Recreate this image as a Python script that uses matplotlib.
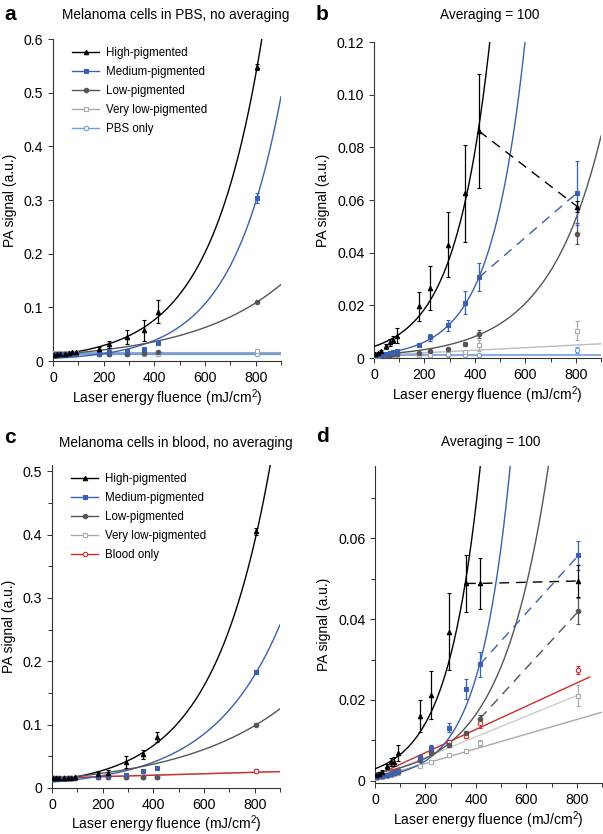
import numpy as np
import matplotlib.pyplot as plt
from matplotlib.lines import Line2D
from matplotlib.ticker import MultipleLocator

plt.rcParams['font.family'] = ['Liberation Sans', 'DejaVu Sans']
plt.rcParams['mathtext.fontset'] = 'custom'
plt.rcParams['mathtext.rm'] = 'Liberation Sans'
plt.rcParams['font.size'] = 9.5

# laser energy fluence (mJ/cm2), shared by all panels
fluence = [5, 15, 28, 48, 63, 76, 91, 180, 223, 294, 361, 416, 806]

# ---- a: melanoma cells in PBS, no averaging
a_high = [0.012, 0.013, 0.013, 0.014, 0.015, 0.016, 0.016, 0.022, 0.031, 0.044, 0.057, 0.092, 0.548]
a_high_err = [0.001, 0.001, 0.001, 0.001, 0.002, 0.002, 0.002, 0.005, 0.007, 0.013, 0.019, 0.021, 0.005]
a_med = [0.013, 0.013, 0.013, 0.013, 0.013, 0.014, 0.014, 0.014, 0.016, 0.019, 0.023, 0.033, 0.304]
a_med_err = [0.001, 0.001, 0.001, 0.001, 0.001, 0.001, 0.001, 0.001, 0.001, 0.002, 0.002, 0.003, 0.010]
a_low = [0.012, 0.012, 0.013, 0.013, 0.013, 0.013, 0.013, 0.013, 0.014, 0.014, 0.015, 0.016, 0.110]
a_low_err = [0.001, 0.001, 0.001, 0.001, 0.001, 0.001, 0.001, 0.001, 0.001, 0.001, 0.001, 0.001, 0.002]
a_vlow = [0.015, 0.015, 0.015, 0.015, 0.015, 0.015, 0.015, 0.014, 0.014, 0.014, 0.014, 0.014, 0.018]
a_vlow_err = [0.001, 0.001, 0.001, 0.001, 0.001, 0.001, 0.001, 0.001, 0.001, 0.001, 0.001, 0.001, 0.002]
a_pbs = [0.014, 0.014, 0.013, 0.013, 0.013, 0.013, 0.013, 0.013, 0.013, 0.013, 0.013, 0.013, 0.014]
a_pbs_err = [0.001, 0.001, 0.001, 0.001, 0.001, 0.001, 0.001, 0.001, 0.001, 0.001, 0.001, 0.001, 0.001]
# exponential fits: amplitude, rate
a_fit_high = [0.011, 0.00485]
a_fit_med = [0.005, 0.0051]
a_fit_low = [0.012, 0.00275]
# linear fits: intercept, slope
a_line_vlow = [0.015, 0.0]
a_line_pbs = [0.0135, 0.0]

# ---- b: PBS, averaging = 100
b_high = [0.0015, 0.002, 0.0025, 0.0044, 0.0059, 0.0069, 0.0085, 0.0196, 0.0266, 0.0431, 0.0625, 0.0862, 0.0575]
b_high_err = [0.0003, 0.0004, 0.0005, 0.0008, 0.0012, 0.0013, 0.0028, 0.0056, 0.0082, 0.0125, 0.0185, 0.0215, 0.002]
b_med = [0.0012, 0.0012, 0.0013, 0.0015, 0.0018, 0.0023, 0.0026, 0.0048, 0.0079, 0.0124, 0.021, 0.0306, 0.0628]
b_med_err = [0.0002, 0.0002, 0.0002, 0.0002, 0.0002, 0.0002, 0.0002, 0.0004, 0.0013, 0.0022, 0.0043, 0.0053, 0.0122]
b_low = [0.001, 0.001, 0.0011, 0.0012, 0.0013, 0.0014, 0.0015, 0.0019, 0.0025, 0.0035, 0.0053, 0.009, 0.0472]
b_low_err = [0.0002, 0.0002, 0.0002, 0.0002, 0.0002, 0.0002, 0.0002, 0.0003, 0.0004, 0.0005, 0.0006, 0.0015, 0.004]
b_vlow = [0.0009, 0.0009, 0.001, 0.001, 0.001, 0.0011, 0.0011, 0.0012, 0.0013, 0.0016, 0.0022, 0.0048, 0.0103]
b_vlow_err = [0.0002, 0.0002, 0.0002, 0.0002, 0.0002, 0.0002, 0.0002, 0.0002, 0.0002, 0.0003, 0.0004, 0.002, 0.0036]
b_pbs = [0.0012, 0.0012, 0.0012, 0.0012, 0.0012, 0.0012, 0.0012, 0.0012, 0.0012, 0.0012, 0.0012, 0.0012, 0.0031]
b_pbs_err = [0.0002, 0.0002, 0.0002, 0.0002, 0.0002, 0.0002, 0.0002, 0.0002, 0.0002, 0.0002, 0.0002, 0.0002, 0.001]
b_fit_high = [0.0044, 0.0072]
b_fit_med = [0.00137, 0.00747]
b_fit_low = [0.00126, 0.00467]
b_line_vlow = [0.001, 4.9e-6]
b_line_pbs = [0.0013, 0.0]

# ---- c: melanoma cells in blood, no averaging
c_high = [0.015, 0.015, 0.015, 0.016, 0.016, 0.016, 0.017, 0.0227, 0.024, 0.041, 0.053, 0.081, 0.405]
c_high_err = [0.001, 0.001, 0.001, 0.001, 0.001, 0.001, 0.001, 0.003, 0.004, 0.009, 0.007, 0.008, 0.006]
c_med = [0.014, 0.014, 0.014, 0.014, 0.015, 0.015, 0.015, 0.018, 0.019, 0.021, 0.026, 0.031, 0.183]
c_med_err = [0.001, 0.001, 0.001, 0.001, 0.001, 0.001, 0.001, 0.001, 0.001, 0.001, 0.001, 0.002, 0.003]
c_low = [0.015, 0.015, 0.015, 0.015, 0.015, 0.015, 0.015, 0.017, 0.017, 0.017, 0.017, 0.018, 0.100]
c_low_err = [0.001, 0.001, 0.001, 0.001, 0.001, 0.001, 0.001, 0.001, 0.001, 0.001, 0.001, 0.001, 0.002]
c_vlow = [0.016, 0.016, 0.016, 0.016, 0.016, 0.016, 0.016, 0.017, 0.017, 0.017, 0.017, 0.018, 0.026]
c_vlow_err = [0.001, 0.001, 0.001, 0.001, 0.001, 0.001, 0.001, 0.001, 0.001, 0.001, 0.001, 0.001, 0.001]
c_blood = [0.016, 0.016, 0.016, 0.016, 0.016, 0.015, 0.016, 0.017, 0.017, 0.018, 0.017, 0.018, 0.026]
c_blood_err = [0.001, 0.001, 0.001, 0.001, 0.001, 0.001, 0.001, 0.001, 0.001, 0.001, 0.001, 0.001, 0.001]
c_fit_high = [0.0115, 0.0044]
c_fit_med = [0.0093, 0.00369]
c_fit_low = [0.0144, 0.0024]
c_line_vlow = [0.016, 1.1e-5]
c_line_blood = [0.0155, 1.15e-5]

# ---- d: blood, averaging = 100
d_high = [0.0015, 0.0018, 0.00225, 0.0036, 0.0047, 0.0048, 0.0069, 0.0161, 0.0213, 0.0369, 0.0488, 0.0488, 0.0494]
d_high_err = [0.0003, 0.0003, 0.0004, 0.0006, 0.001, 0.001, 0.0019, 0.004, 0.0059, 0.0095, 0.0071, 0.0062, 0.004]
d_med = [0.001, 0.0011, 0.0012, 0.0014, 0.0017, 0.002, 0.0025, 0.0058, 0.0082, 0.0132, 0.0228, 0.0288, 0.0557]
d_med_err = [0.0002, 0.0002, 0.0002, 0.0002, 0.0002, 0.0002, 0.0002, 0.0005, 0.0006, 0.001, 0.0025, 0.003, 0.0035]
d_low = [0.0012, 0.0012, 0.0013, 0.0015, 0.0017, 0.0019, 0.0022, 0.0051, 0.0071, 0.0089, 0.0119, 0.0154, 0.0419]
d_low_err = [0.0002, 0.0002, 0.0002, 0.0002, 0.0002, 0.0002, 0.0002, 0.0003, 0.0004, 0.0005, 0.0005, 0.0008, 0.0032]
d_vlow = [0.0008, 0.0009, 0.001, 0.0012, 0.0014, 0.0016, 0.002, 0.0038, 0.0048, 0.0063, 0.0075, 0.0094, 0.0211]
d_vlow_err = [0.0002, 0.0002, 0.0002, 0.0002, 0.0002, 0.0002, 0.0002, 0.0003, 0.0004, 0.0004, 0.0005, 0.0008, 0.0025]
d_blood = [0.0011, 0.0012, 0.0012, 0.0015, 0.002, 0.0022, 0.0028, 0.0059, 0.0071, 0.0096, 0.0111, 0.0142, 0.0275]
d_blood_err = [0.0002, 0.0002, 0.0002, 0.0002, 0.0002, 0.0002, 0.0002, 0.0004, 0.0005, 0.0006, 0.0006, 0.001, 0.001]
d_fit_high = [0.003, 0.0078]
d_fit_med = [0.00096, 0.0082]
d_fit_low = [0.0019, 0.0054]
d_line_vlow = [0.0007, 2.55e-5]
d_line_vlow2 = [0.0007, 1.81e-5]
d_line_blood = [0.00125, 2.87e-5]

labels_pbs = ['High-pigmented', 'Medium-pigmented', 'Low-pigmented', 'Very low-pigmented', 'PBS only']
labels_blood = ['High-pigmented', 'Medium-pigmented', 'Low-pigmented', 'Very low-pigmented', 'Blood only']

BLACK = '#000000'
BLUE = '#3a5fb3'
DGREY = '#555555'
LGREY = '#aaaaaa'
LBLUE = '#6d9ee3'
RED = '#d42a2a'

# color, marker, filled
styles = {
    'high': (BLACK, '^', True),
    'med': (BLUE, 's', True),
    'low': (DGREY, 'o', True),
    'vlow': (LGREY, 's', False),
    'pbs': (LBLUE, 'o', False),
    'blood': (RED, 'o', False),
}

f = np.array(fluence)
xs = np.linspace(0, 900, 400)


def points(ax, key, y, err):
    col, mk, filled = styles[key]
    ax.errorbar(f, y, yerr=err, fmt=mk, color=col, ms=3.2, mew=0.8,
                mfc=col if filled else 'white', elinewidth=0.9,
                capsize=1.5, capthick=0.8, zorder=4)


def expfit(ax, key, p, lw=1.0):
    ax.plot(xs, p[0] * np.exp(p[1] * xs), color=styles[key][0], lw=lw, zorder=3)


def linfit(ax, col, p, x_end=900, lw=1.0):
    x = np.linspace(0, x_end, 50)
    ax.plot(x, p[0] + p[1] * x, color=col, lw=lw, zorder=2)


def dashed(ax, key, y, start):
    ax.plot(f[start:], np.array(y)[start:], color=styles[key][0], lw=1.0,
            dashes=(7, 5), zorder=3)


def style_axes(ax, ymax, ymajor, yminor, fmt, ymin=0, xpad=2):
    ax.set_xlim(0, 900)
    ax.set_ylim(ymin, ymax)
    ax.spines['top'].set_visible(False)
    ax.spines['right'].set_visible(False)
    for s in ['left', 'bottom']:
        ax.spines[s].set_linewidth(0.8)
        ax.spines[s].set_color('#333333')
    ax.xaxis.set_major_locator(MultipleLocator(200))
    ax.xaxis.set_minor_locator(MultipleLocator(100))
    ax.yaxis.set_major_locator(MultipleLocator(ymajor))
    if yminor:
        ax.yaxis.set_minor_locator(MultipleLocator(yminor))
    ax.yaxis.set_major_formatter(fmt)
    ax.tick_params(which='both', direction='out', width=0.7, color='#333333')
    ax.tick_params(which='major', length=3.5, labelsize=10.2)
    ax.tick_params(which='minor', length=3)
    ax.set_xlabel('Laser energy fluence (mJ/cm$^2$)', fontsize=10, labelpad=xpad)
    ax.set_ylabel('PA signal (a.u.)', fontsize=10, labelpad=5)


def zero_fmt(decimals):
    def fmt(v, pos):
        if abs(v) < 1e-9:
            return '0'
        return f'{v:.{decimals}f}'
    return plt.FuncFormatter(fmt)


def add_legend(ax, keys, labels):
    handles = []
    for k in keys:
        col, mk, filled = styles[k]
        handles.append(Line2D([], [], color=col, marker=mk, ms=3.2, lw=1.0,
                              mfc=col if filled else 'white', mew=0.8))
    ax.legend(handles, labels, loc='upper left', bbox_to_anchor=(0.05, 1.0),
              frameon=False, fontsize=8.3, handlelength=2.3, handletextpad=0.6,
              labelspacing=0.6, borderaxespad=0.3)


fig = plt.figure(figsize=(6.03, 8.34), dpi=100)
ax_a = fig.add_axes([0.0879, 0.5671, 0.378, 0.3861])
ax_b = fig.add_axes([0.6202, 0.5707, 0.3765, 0.3789])
ax_c = fig.add_axes([0.0862, 0.0552, 0.378, 0.3873])
ax_d = fig.add_axes([0.6219, 0.0612, 0.3765, 0.3800])

# panel a
linfit(ax_a, LGREY, a_line_vlow, lw=2.2)
linfit(ax_a, LBLUE, a_line_pbs, lw=1.6)
expfit(ax_a, 'high', a_fit_high)
expfit(ax_a, 'med', a_fit_med)
expfit(ax_a, 'low', a_fit_low)
points(ax_a, 'pbs', a_pbs, a_pbs_err)
points(ax_a, 'vlow', a_vlow, a_vlow_err)
points(ax_a, 'low', a_low, a_low_err)
points(ax_a, 'med', a_med, a_med_err)
points(ax_a, 'high', a_high, a_high_err)
style_axes(ax_a, 0.6, 0.1, None, zero_fmt(1))
add_legend(ax_a, ['high', 'med', 'low', 'vlow', 'pbs'], labels_pbs)

# panel b
linfit(ax_b, LBLUE, b_line_pbs, lw=1.2)
linfit(ax_b, '#bbbbbb', b_line_vlow)
expfit(ax_b, 'high', b_fit_high)
expfit(ax_b, 'med', b_fit_med)
expfit(ax_b, 'low', b_fit_low)
dashed(ax_b, 'high', b_high, 11)
dashed(ax_b, 'med', b_med, 11)
points(ax_b, 'pbs', b_pbs, b_pbs_err)
points(ax_b, 'vlow', b_vlow, b_vlow_err)
points(ax_b, 'low', b_low, b_low_err)
points(ax_b, 'med', b_med, b_med_err)
points(ax_b, 'high', b_high, b_high_err)
style_axes(ax_b, 0.12, 0.02, None, zero_fmt(2))

# panel c
linfit(ax_c, '#bbbbbb', c_line_vlow)
linfit(ax_c, RED, c_line_blood)
expfit(ax_c, 'high', c_fit_high)
expfit(ax_c, 'med', c_fit_med)
expfit(ax_c, 'low', c_fit_low)
points(ax_c, 'vlow', c_vlow, c_vlow_err)
points(ax_c, 'blood', c_blood, c_blood_err)
points(ax_c, 'low', c_low, c_low_err)
points(ax_c, 'med', c_med, c_med_err)
points(ax_c, 'high', c_high, c_high_err)
style_axes(ax_c, 0.51, 0.1, 0.05, zero_fmt(1), xpad=1)
add_legend(ax_c, ['high', 'med', 'low', 'vlow', 'blood'], labels_blood)

# panel d
linfit(ax_d, '#cccccc', d_line_vlow, x_end=806)
linfit(ax_d, '#a8a8a8', d_line_vlow2)
linfit(ax_d, RED, d_line_blood, x_end=851)
expfit(ax_d, 'high', d_fit_high)
expfit(ax_d, 'med', d_fit_med)
expfit(ax_d, 'low', d_fit_low)
dashed(ax_d, 'high', d_high, 10)
dashed(ax_d, 'med', d_med, 11)
dashed(ax_d, 'low', d_low, 11)
points(ax_d, 'vlow', d_vlow, d_vlow_err)
points(ax_d, 'blood', d_blood, d_blood_err)
points(ax_d, 'low', d_low, d_low_err)
points(ax_d, 'med', d_med, d_med_err)
points(ax_d, 'high', d_high, d_high_err)
style_axes(ax_d, 0.0778, 0.02, 0.01, zero_fmt(2), ymin=-0.0005, xpad=2)

# titles and panel letters
W, H = 603, 834
titles = [(176, 15, 'Melanoma cells in PBS, no averaging'), (490, 15, 'Averaging = 100'),
          (176, 443, 'Melanoma cells in blood, no averaging'), (491, 442, 'Averaging = 100')]
for x, y, t in titles:
    fig.text(x / W, 1 - y / H, t, ha='center', va='center', fontsize=9.8)
letters = [(4, 15, 'a'), (316, 15, 'b'), (4, 438, 'c'), (316, 437, 'd')]
for x, y, t in letters:
    fig.text(x / W, 1 - y / H, t, ha='left', va='center', fontsize=15, fontweight='bold')

fig.savefig('out.png', dpi=100)
